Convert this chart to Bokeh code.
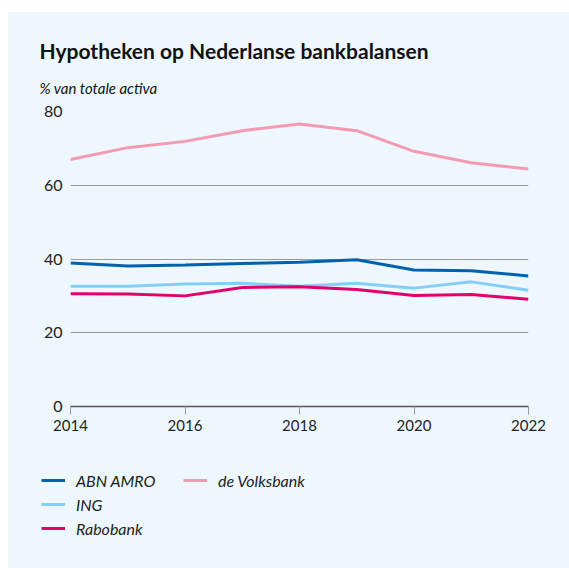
from bokeh.plotting import figure
from bokeh.models import Legend, LegendItem, Title, FixedTicker, Range1d
from bokeh.layouts import column
from bokeh.embed import file_html
from bokeh.resources import INLINE

years = [2014, 2015, 2016, 2017, 2018, 2019, 2020, 2021, 2022]
abn_amro = [38.9, 38.1, 38.4, 38.8, 39.1, 39.8, 37.0, 36.8, 35.4]
ing = [32.6, 32.6, 33.2, 33.4, 32.6, 33.4, 32.1, 33.8, 31.5]
rabobank = [30.6, 30.5, 30.0, 32.3, 32.5, 31.7, 30.1, 30.4, 29.1]
volksbank = [67.0, 70.2, 71.9, 74.8, 76.6, 74.8, 69.2, 66.1, 64.4]
series_names = ["ABN AMRO", "ING", "Rabobank", "de Volksbank"]
series_colors = ["#0062ad", "#86cdf8", "#e2006b", "#f59ab2"]
y_ticks = [0, 20, 40, 60, 80]
x_ticks = [2014, 2016, 2018, 2020, 2022]

BG = "#edf7fd"
FONT = "Lato"

p = figure(width=561, height=438, output_backend="svg", toolbar_location=None,
           x_range=Range1d(2014, 2022), y_range=Range1d(0, 80),
           min_border_left=62, min_border_right=41, min_border_top=99,
           min_border_bottom=44)
p.title.visible = False
p.frame_align = False
p.background_fill_color = BG
p.border_fill_color = BG
p.outline_line_color = None

data = [abn_amro, ing, rabobank, volksbank]
for vals, col in zip(data, series_colors):
    p.line(years, vals, line_color=col, line_width=3)

# axes
p.xaxis.ticker = FixedTicker(ticks=x_ticks)
p.xaxis.axis_line_color = "#555555"
p.xaxis.axis_line_width = 1.5
p.xaxis.major_tick_line_color = "#999999"
p.xaxis.major_tick_out = 8
p.xaxis.major_tick_in = 0
p.xaxis.minor_tick_line_color = None
p.xaxis.major_label_standoff = 5
p.xaxis.major_label_text_font = FONT
p.xaxis.major_label_text_font_size = "15px"
p.xaxis.major_label_text_color = "#222222"

p.yaxis.ticker = FixedTicker(ticks=y_ticks)
p.yaxis.axis_line_color = None
p.yaxis.major_tick_line_color = None
p.yaxis.major_tick_out = 0
p.yaxis.major_tick_in = 0
p.yaxis.minor_tick_line_color = None
p.yaxis.major_label_standoff = 8
p.yaxis.major_label_text_font = FONT
p.yaxis.major_label_text_font_size = "16px"
p.yaxis.major_label_text_color = "#222222"

p.xgrid.grid_line_color = None
p.ygrid.ticker = FixedTicker(ticks=[20, 40, 60, 80])
p.ygrid.grid_line_color = "#9a9a9a"
p.ygrid.grid_line_width = 1.2

# subtitle (closest to frame), then title
p.add_layout(Title(text="% van totale activa", align="left", offset=-31, standoff=29,
                   text_font=FONT, text_font_style="italic", text_font_size="15px",
                   text_color="#111111"), "above")
p.add_layout(Title(text="Hypotheken op Nederlanse bankbalansen", align="left", offset=-31,
                   standoff=0, text_font=FONT, text_font_style="bold", text_font_size="21px",
                   text_color="#111111"), "above")

# legend figure (its lines lie outside its own view; only the legend is visible)
q = figure(width=561, height=118, output_backend="svg", toolbar_location=None,
           x_range=Range1d(0, 1), y_range=Range1d(0, 1),
           x_axis_location=None, y_axis_location=None,
           min_border_left=0, min_border_right=0, min_border_top=0, min_border_bottom=0)
q.title.visible = False
q.frame_align = False
q.background_fill_color = BG
q.border_fill_color = BG
q.outline_line_color = None
q.xgrid.grid_line_color = None
q.ygrid.grid_line_color = None

items = []
for name, vals, col in zip(series_names, data, series_colors):
    r = q.line(years, vals, line_color=col, line_width=3)
    items.append(LegendItem(label=name, renderers=[r]))

lg = Legend(items=items, location=(33, 30), orientation="vertical", nrows=3)
lg.background_fill_alpha = 0
lg.border_line_color = None
lg.padding = 0
lg.margin = 0
lg.spacing = 4
lg.glyph_width = 24
lg.glyph_height = 20
lg.label_height = 20
lg.label_width = 103
lg.label_standoff = 11
lg.label_text_font = FONT
lg.label_text_font_style = "italic"
lg.label_text_font_size = "16px"
lg.label_text_color = "#222222"
q.add_layout(lg)

layout = column(p, q, spacing=0, margin=(12, 0, 0, 8))
layout.styles = {"background-color": BG}
open("out.html", "w").write(file_html(layout, INLINE))
